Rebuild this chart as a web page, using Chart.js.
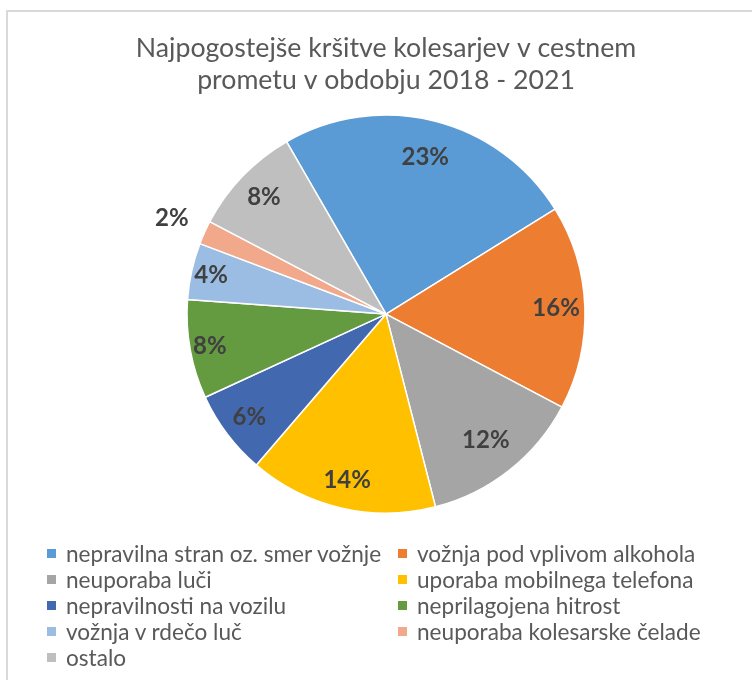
<!DOCTYPE html>
<html>
<head>
<meta charset="utf-8">
<script src="https://cdn.jsdelivr.net/npm/chart.js@4.4.1/dist/chart.umd.min.js"></script>
<style>
  html, body { margin: 0; padding: 0; background: #fff; }
  #wrap { position: relative; width: 752px; height: 680px; overflow: hidden; }
  #c { position: absolute; left: 0; top: 0; }
  #legend {
    position: absolute; left: 47px; top: 540px;
    display: grid; grid-template-columns: 351px 351px; grid-auto-rows: 26px;
    font-family: Lato, "Open Sans", sans-serif; font-size: 22.6px; color: #595959;
  }
  #legend .item { display: flex; align-items: center; white-space: nowrap; }
  #legend .box { width: 9px; height: 9px; margin-right: 10px; flex: none; }
</style>
</head>
<body>
<div id="wrap">
  <canvas id="c" width="752" height="680"></canvas>
  <div id="legend"></div>
</div>
<script>
const titleLines = ["Najpogostejše kršitve kolesarjev v cestnem", "prometu v obdobju 2018 - 2021"];
const categories = [
  "nepravilna stran oz. smer vožnje",
  "vožnja pod vplivom alkohola",
  "neuporaba luči",
  "uporaba mobilnega telefona",
  "nepravilnosti na vozilu",
  "neprilagojena hitrost",
  "vožnja v rdečo luč",
  "neuporaba kolesarske čelade",
  "ostalo"
];
const values = [22.9, 15.5, 12.4, 14.3, 6.4, 7.5, 4.3, 1.8, 8.4];
const colors = ["#5B9BD5", "#ED7D31", "#A5A5A5", "#FFC000", "#4268B0", "#649A40", "#9CBDE3", "#F2A98B", "#BFBFBF"];
const labelRadius = [0.81, 0.855, 0.81, 0.86, 0.86, 0.9, 0.9, 1.18, 0.85];

const borderPlugin = {
  id: 'outerBorder',
  beforeDraw(chart) {
    const ctx = chart.ctx;
    ctx.save();
    ctx.strokeStyle = '#D9D9D9';
    ctx.lineWidth = 2;
    ctx.strokeRect(7, 11, 800, 720);
    ctx.restore();
  }
};

const valueLabels = {
  id: 'valueLabels',
  afterDatasetsDraw(chart) {
    const ctx = chart.ctx;
    const meta = chart.getDatasetMeta(0);
    ctx.save();
    ctx.font = 'bold 24px Lato, "Open Sans", sans-serif';
    ctx.fillStyle = '#404040';
    ctx.textAlign = 'center';
    ctx.textBaseline = 'middle';
    meta.data.forEach((arc, i) => {
      const p = arc.getProps(['x', 'y', 'startAngle', 'endAngle', 'outerRadius'], true);
      const mid = (p.startAngle + p.endAngle) / 2;
      const r = p.outerRadius * labelRadius[i];
      ctx.fillText(Math.round(values[i]) + '%', p.x + Math.cos(mid) * r, p.y + Math.sin(mid) * r);
    });
    ctx.restore();
  }
};

const chart = new Chart(document.getElementById('c'), {
  type: 'pie',
  data: {
    labels: categories,
    datasets: [{
      data: values,
      backgroundColor: colors,
      borderColor: '#FFFFFF',
      borderWidth: 1.5
    }]
  },
  options: {
    responsive: false,
    animation: false,
    rotation: -30,
    radius: 199,
    layout: { padding: { left: 20, right: 0, top: 0, bottom: 165 } },
    plugins: {
      legend: { display: false },
      tooltip: { enabled: false },
      title: {
        display: true,
        text: titleLines,
        color: '#595959',
        font: { family: 'Lato, "Open Sans", sans-serif', size: 26.7, weight: 'normal', lineHeight: 1.22 },
        padding: { top: 32, bottom: 16 }
      }
    }
  },
  plugins: [borderPlugin, valueLabels]
});

const legendEl = document.getElementById('legend');
categories.forEach((name, i) => {
  const item = document.createElement('div');
  item.className = 'item';
  const box = document.createElement('span');
  box.className = 'box';
  box.style.background = colors[i];
  const txt = document.createElement('span');
  txt.textContent = name;
  item.appendChild(box);
  item.appendChild(txt);
  legendEl.appendChild(item);
});
</script>
</body>
</html>
